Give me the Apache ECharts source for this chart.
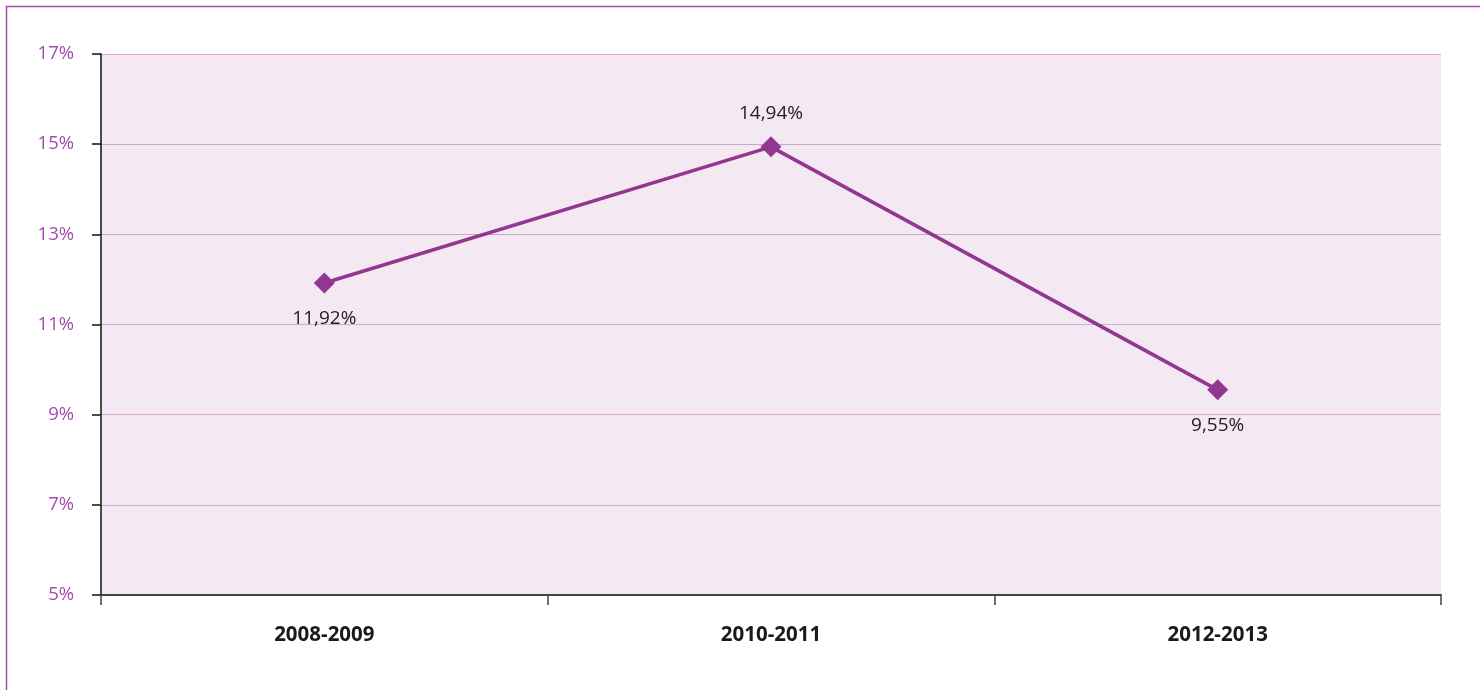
<!DOCTYPE html>
<html><head><meta charset="utf-8">
<script src="https://cdn.jsdelivr.net/npm/echarts@6/dist/echarts.min.js"></script>
<style>html,body{margin:0;padding:0;background:#fff}#c{width:1480px;height:690px}</style>
</head><body><div id="c"></div>
<script>
const categories = ['2008-2009', '2010-2011', '2012-2013'];
const values = [11.92, 14.94, 9.55];
const labelPositions = ['bottom', 'top', 'bottom'];
const yMin = 5, yMax = 17, yStep = 2;

const chart = echarts.init(document.getElementById('c'), null, {renderer: 'canvas'});
const FONT = '"Open Sans", "Noto Sans", sans-serif';
chart.setOption({
  animation: false,
  backgroundColor: '#ffffff',
  graphic: [{
    type: 'rect', silent: true,
    shape: {x: 6.5, y: 6.5, width: 1490, height: 700},
    style: {fill: 'none', stroke: '#a64bae', lineWidth: 1.5}
  }],
  grid: {left: 101, right: 39, top: 54, bottom: 95, show: true, backgroundColor: '#f4e8f3', borderWidth: 0},
  xAxis: {
    type: 'category', data: categories, boundaryGap: true,
    axisLine: {lineStyle: {color: '#444', width: 2}},
    axisTick: {show: true, length: 10, lineStyle: {color: '#444', width: 1.5}},
    axisLabel: {margin: 30, color: '#1a1a1a', fontSize: 20.5, fontWeight: 'bold', fontFamily: FONT},
    splitLine: {show: false}
  },
  yAxis: {
    type: 'value', min: yMin, max: yMax, interval: yStep,
    axisLine: {show: true, lineStyle: {color: '#111', width: 1.5}},
    axisTick: {show: true, length: 9, lineStyle: {color: '#111', width: 1.5}},
    axisLabel: {margin: 27, color: '#a64bae', fontSize: 18.5, fontFamily: FONT, formatter: v => v + '%'},
    splitLine: {show: true, lineStyle: {color: ['#d9a6d6', '#d9a6d6', '#d9a6d6', '#d9a6d6', '#c4a9c2', '#c4a9c2', '#d9a6d6'], width: 1.2}}
  },
  series: [{
    type: 'line',
    data: values.map((v, i) => ({value: v, label: {position: labelPositions[i], distance: labelPositions[i] === 'top' ? 13 : 16}})),
    symbol: 'diamond', symbolSize: 21,
    lineStyle: {color: '#93368f', width: 3.5},
    itemStyle: {color: '#93368f'},
    label: {
      show: true, color: '#222', fontSize: 19, fontFamily: FONT,
      formatter: p => p.value.toFixed(2).replace('.', ',') + '%'
    }
  }]
});
</script></body></html>
